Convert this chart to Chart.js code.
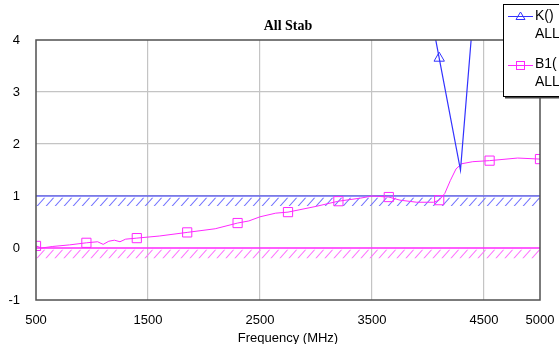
<!DOCTYPE html>
<html>
<head>
<meta charset="utf-8">
<script src="https://cdn.jsdelivr.net/npm/chart.js@4.4.0/dist/chart.umd.min.js"></script>
<style>
  html, body { margin: 0; padding: 0; background: #fff; }
  #wrap { width: 559px; height: 344px; position: relative; }
</style>
</head>
<body>
<div id="wrap"><canvas id="c" width="559" height="344"></canvas></div>
<script>
// B1 stability measure (dense sweep), MHz
const freqB1 = [500, 550, 650, 800, 950, 1050, 1100, 1150, 1200, 1250, 1300, 1400, 1600, 1850, 2100, 2300, 2400, 2500, 2640, 2750, 3000, 3200, 3400, 3500, 3650, 3750, 3900, 4050, 4100, 4150, 4200, 4250, 4300, 4400, 4550, 4800, 5000];
const valB1  = [0.04, 0.0, 0.03, 0.06, 0.1, 0.12, 0.07, 0.13, 0.15, 0.12, 0.17, 0.19, 0.23, 0.3, 0.37, 0.48, 0.52, 0.6, 0.67, 0.69, 0.8, 0.9, 0.96, 1.0, 0.98, 0.92, 0.88, 0.88, 0.92, 1.05, 1.3, 1.52, 1.62, 1.66, 1.68, 1.73, 1.71];

// K factor (only the part that falls inside the view)
const freqK = [4050, 4100, 4290, 4385, 4450];
const valK  = [4.22, 3.65, 1.5, 4.0, 5.7];

// frequencies that carry a marker
const markerFreqs = [500, 950, 1400, 1850, 2300, 2750, 3200, 3650, 4100, 4550, 5000];

const xTicks = [500, 1500, 2500, 3500, 4500, 5000];
const yTicks = [-1, 0, 1, 2, 3, 4];

// limit lines and hatched bands
const kLimit = 1, kBand = 0.81;
const bLimit = 0, bBand = -0.2;

const BLUE = 'rgb(50,50,255)';
const MAGENTA = 'rgb(255,40,255)';
const BLUE_HATCH = 'rgb(110,110,255)';
const MAGENTA_HATCH = 'rgb(255,110,255)';

const pts = (xs, ys) => xs.map((x, i) => ({ x: x, y: ys[i] }));
const markerRadius = r => ctx => markerFreqs.includes(ctx.raw && ctx.raw.x) ? r : 0;

// hatched bands below the limit lines
function drawBand(chart, top, bottom, hatchColor) {
    const { ctx } = chart;
    const xs = chart.scales.x, ys = chart.scales.y;
    const l = xs.left, r = xs.right;
    const t = ys.getPixelForValue(top) + 1.5, b = ys.getPixelForValue(bottom);
    const h = b - t;
    ctx.save();
    ctx.beginPath();
    ctx.rect(l, t, r - l, h);
    ctx.clip();
    ctx.fillStyle = hatchColor;
    for (let x = l - h; x < r + h; x += 9) {
        ctx.beginPath();
        ctx.moveTo(x, b);
        ctx.lineTo(x + h * 0.9, t);
        ctx.lineTo(x + h * 0.9 + 1.3, t);
        ctx.lineTo(x + 1.3, b);
        ctx.closePath();
        ctx.fill();
    }
    ctx.restore();
}

const bands = {
    id: 'bands',
    beforeDatasetsDraw(chart) {
        drawBand(chart, kLimit, kBand, BLUE_HATCH);
        drawBand(chart, bLimit, bBand, MAGENTA_HATCH);
    }
};

const frame = {
    id: 'frame',
    afterDraw(chart) {
        const { ctx } = chart;
        const xs = chart.scales.x, ys = chart.scales.y;
        ctx.save();
        ctx.strokeStyle = '#505050';
        ctx.lineWidth = 1.5;
        ctx.strokeRect(xs.left, ys.top, xs.right - xs.left, ys.bottom - ys.top);

        ctx.fillStyle = '#000';
        ctx.textAlign = 'center';
        ctx.textBaseline = 'middle';
        ctx.font = 'bold 14px "Liberation Serif"';
        ctx.fillText('All Stab', 288, 26);
        ctx.font = '13px "Liberation Sans"';
        ctx.fillText('Frequency (MHz)', 288, 338);

        // legend box
        ctx.fillStyle = '#444';
        ctx.fillRect(505, 96, 60, 2.5);
        ctx.fillStyle = '#fff';
        ctx.fillRect(503, 4, 60, 92);
        ctx.strokeStyle = '#000';
        ctx.lineWidth = 1;
        ctx.strokeRect(503.5, 4.5, 60, 92);

        ctx.lineWidth = 1;
        ctx.strokeStyle = BLUE;
        ctx.beginPath(); ctx.moveTo(508, 16.5); ctx.lineTo(533, 16.5); ctx.stroke();
        ctx.beginPath(); ctx.moveTo(520.5, 12); ctx.lineTo(525, 19.5); ctx.lineTo(516, 19.5); ctx.closePath(); ctx.stroke();
        ctx.strokeStyle = MAGENTA;
        ctx.beginPath(); ctx.moveTo(508, 65.5); ctx.lineTo(533, 65.5); ctx.stroke();
        ctx.strokeRect(516.5, 61.5, 8, 8);

        ctx.fillStyle = '#000';
        ctx.textAlign = 'left';
        ctx.font = '14px "Liberation Sans"';
        ctx.fillText('K()', 535, 16);
        ctx.fillText('ALL', 535, 34);
        ctx.fillText('B1(', 535, 64);
        ctx.fillText('ALL', 535, 82);
        ctx.restore();
    }
};

const canvas = document.getElementById('c');
new Chart(canvas, {
    type: 'line',
    data: {
        datasets: [
            {
                data: pts(freqK, valK),
                borderColor: BLUE,
                borderWidth: 1.2,
                pointStyle: 'triangle',
                pointRadius: markerRadius(6),
                pointBorderColor: BLUE,
                pointBackgroundColor: 'rgba(0,0,0,0)',
                pointBorderWidth: 1,
                fill: false
            },
            {
                data: pts(freqB1, valB1),
                borderColor: MAGENTA,
                borderWidth: 1,
                pointStyle: 'rect',
                pointRadius: markerRadius(6.5),
                pointBorderColor: MAGENTA,
                pointBackgroundColor: 'rgba(0,0,0,0)',
                pointBorderWidth: 1,
                fill: false
            },
            {
                data: pts([500, 5000], [kLimit, kLimit]),
                borderColor: BLUE,
                borderWidth: 1.2,
                pointRadius: 0,
                fill: false
            },
            {
                data: pts([500, 5000], [bLimit, bLimit]),
                borderColor: MAGENTA,
                borderWidth: 1.6,
                pointRadius: 0,
                fill: false
            }
        ]
    },
    options: {
        responsive: false,
        animation: false,
        layout: { autoPadding: false, padding: { top: 40, right: 19, left: 0, bottom: 0 } },
        plugins: { legend: { display: false }, tooltip: { enabled: false } },
        scales: {
            x: {
                type: 'linear',
                min: 500, max: 5000,
                afterFit: s => { s.height = 44; },
                afterBuildTicks: s => { s.ticks = xTicks.map(v => ({ value: v })); },
                grid: {
                    tickLength: 10,
                    tickColor: 'rgba(0,0,0,0)',
                    color: c => (c.tick && (c.tick.value === 500 || c.tick.value === 5000)) ? 'rgba(0,0,0,0)' : '#c4c4c4',
                    lineWidth: 1.2
                },
                border: { display: false },
                ticks: {
                    padding: 3, color: '#000', font: { family: 'Liberation Sans', size: 13 },
                    maxRotation: 0, autoSkip: false,
                    callback: v => String(v)
                }
            },
            y: {
                min: -1, max: 4,
                afterFit: s => { s.width = 36; },
                afterBuildTicks: s => { s.ticks = yTicks.map(v => ({ value: v })); },
                grid: {
                    tickLength: 13,
                    tickColor: 'rgba(0,0,0,0)',
                    color: c => (c.tick && c.tick.value > 0 && c.tick.value < 4) ? '#c4c4c4' : 'rgba(0,0,0,0)',
                    lineWidth: 1.2
                },
                border: { display: false },
                ticks: { padding: 3, color: '#000', font: { family: 'Liberation Sans', size: 13 }, callback: v => String(v) }
            }
        }
    },
    plugins: [bands, frame]
});
</script>
</body>
</html>
